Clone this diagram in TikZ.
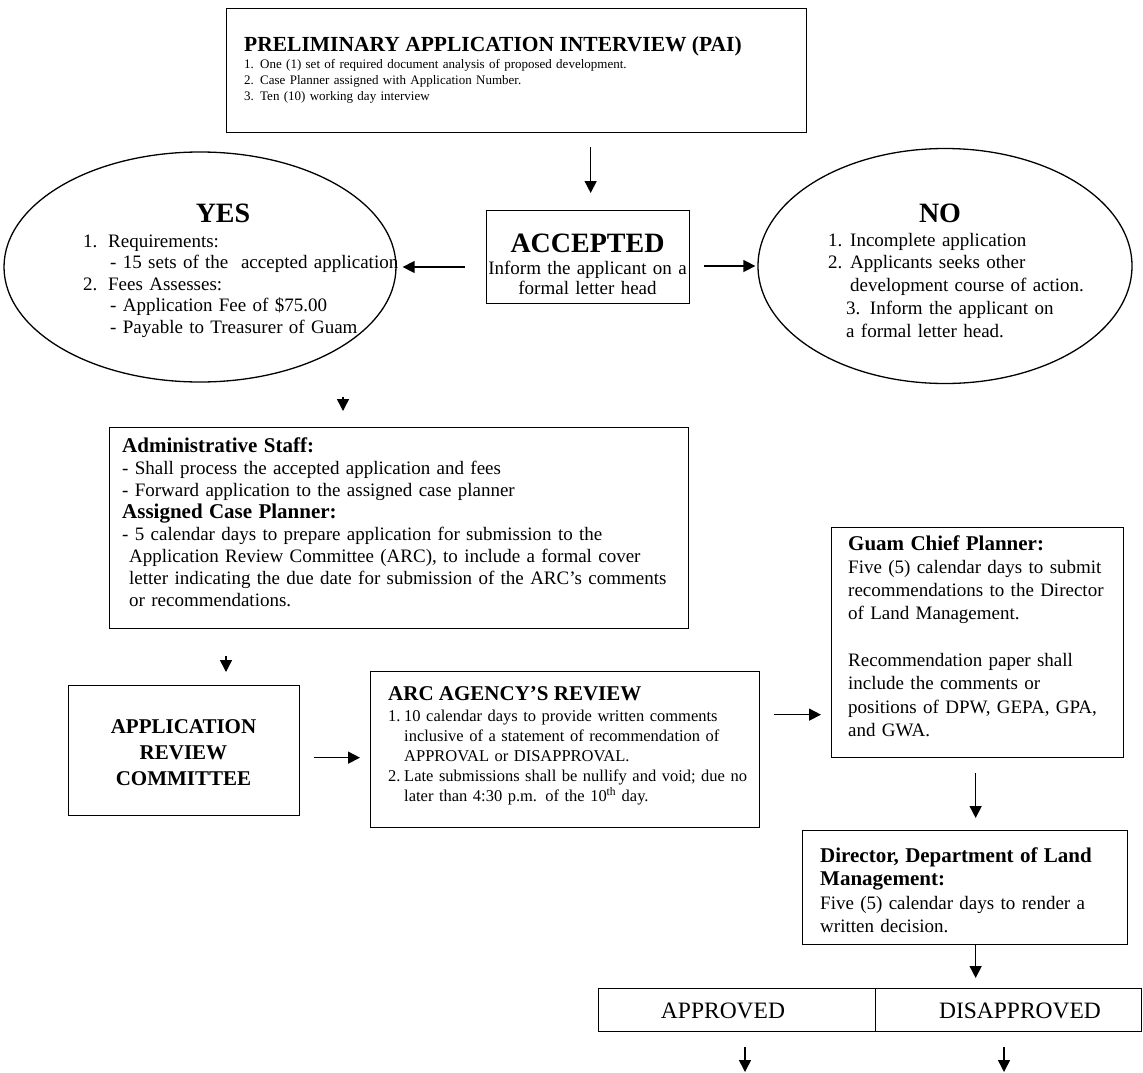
\documentclass[tikz,border=0pt]{standalone}
\usepackage{fontspec}
\setmainfont{Liberation Serif}
\usetikzlibrary{arrows.meta,shapes.geometric,calc}
\newcommand\fs[2]{\fontsize{#1}{#2}\selectfont}
\tikzset{
  box/.style={draw, line width=1.3pt, rectangle, inner sep=0pt, anchor=north west},
  oval/.style={draw, line width=1.3pt, ellipse, inner sep=0pt},
  arr/.style={line width=1.5pt, -{Triangle[length=12pt,width=12pt]}},
  txt/.style={anchor=base west, inner sep=0pt, align=left},
  ctxt/.style={anchor=base, inner sep=0pt, align=center},
}
\begin{document}
\begin{tikzpicture}[x=1pt,y=-1pt]
\useasboundingbox (0,0) rectangle (1143,1073);

% PAI
\node[box, minimum width=580pt, minimum height=124pt] (pai) at (226,8) {};
\node[txt, font=\fs{21.5}{24}\bfseries] (paiT) at (244,52) {PRELIMINARY APPLICATION INTERVIEW (PAI)};
\node[txt, text width=540pt, font=\fs{13}{16}] (paiL) at (244,69)
 {\makebox[16pt][l]{1.}One (1) set of required document analysis of proposed development.\\
  \makebox[16pt][l]{2.}Case Planner assigned with Application Number.\\
  \makebox[16pt][l]{3.}Ten (10) working day interview};

% YES
\node[oval, minimum width=392pt, minimum height=230pt] (yes) at (200,267) {};
\node[ctxt, font=\fs{28}{30}\bfseries] (yesT) at (223,222) {YES};
\node[txt, text width=330pt, font=\fs{19}{21.5}] (yesL) at (83,247)
 {\makebox[25pt][l]{1.}Requirements:\\
  \hspace*{27pt}- 15 sets of the\ \ accepted application\\
  \makebox[25pt][l]{2.}Fees Assesses:\\
  \hspace*{27pt}- Application Fee of \$75.00\\
  \hspace*{27pt}- Payable to Treasurer of Guam};

% ACCEPTED
\node[box, minimum width=203pt, minimum height=93pt] (acc) at (486,210) {};
\node[ctxt, font=\fs{28}{30}\bfseries] (accT) at (587.5,252) {ACCEPTED};
\node[anchor=base, inner sep=0pt, text width=203pt, align=center, font=\fs{19}{20}] (accL) at (587.5,274)
 {Inform the applicant on a\\ formal letter head};

% NO
\node[oval, minimum width=374pt, minimum height=235pt] (no) at (945,266) {};
\node[ctxt, font=\fs{28}{30}\bfseries] (noT) at (940,222) {NO};
\node[txt, text width=300pt, font=\fs{19}{22.8}] (noL) at (828,246)
 {\makebox[22pt][l]{1.}Incomplete application\\
  \makebox[22pt][l]{2.}Applicants seeks other\\
  \hspace*{22pt}development course of action.\\
  \hspace*{18pt}3. Inform the applicant on\\
  \hspace*{18pt}a formal letter head.};

% Administrative staff
\node[box, minimum width=579pt, minimum height=201pt] (adm) at (109,427) {};
\node[txt, text width=570pt, font=\fs{19}{22}] (admL) at (122,452)
 {{\fs{21}{22}\bfseries Administrative Staff:}\\
  - Shall process the accepted application and fees\\
  - Forward application to the assigned case planner\\
  {\fs{21}{22}\bfseries Assigned Case Planner:}\\
  - 5 calendar days to prepare application for submission to the\\
  \hspace*{7pt}Application Review Committee (ARC), to include a formal cover\\
  \hspace*{7pt}letter indicating the due date for submission of the ARC’s comments\\
  \hspace*{7pt}or recommendations.};

% Application review committee
\node[box, minimum width=231pt, minimum height=130pt] (arc) at (68,685) {};
\node[anchor=base, inner sep=0pt, text width=220pt, align=center, font=\fs{21}{26}\bfseries] (arcT) at (183.5,733)
 {APPLICATION\\ REVIEW\\ COMMITTEE};

% ARC agency's review
\node[box, minimum width=389pt, minimum height=156pt] (rev) at (370,671) {};
\node[txt, font=\fs{21}{24}\bfseries] (revT) at (388,700) {ARC AGENCY’S REVIEW};
\node[txt, text width=380pt, font=\fs{16.5}{20.2}] (revL) at (388,721)
 {\makebox[16pt][l]{1.}10 calendar days to provide written comments\\
  \hspace*{16pt}inclusive of a statement of recommendation of\\
  \hspace*{16pt}APPROVAL or DISAPPROVAL.\\
  \makebox[16pt][l]{2.}Late submissions shall be nullify and void; due no\\
  \hspace*{16pt}later than 4:30 p.m. of the 10\textsuperscript{th} day.};

% Guam chief planner
\node[box, minimum width=292pt, minimum height=230pt] (guam) at (831,527) {};
\node[txt, text width=280pt, font=\fs{19}{23.3}] (guamL) at (848,550)
 {{\fs{21}{23.3}\bfseries Guam Chief Planner:}\\
  Five (5) calendar days to submit\\
  recommendations to the Director\\
  of Land Management.\\[23.3pt]
  Recommendation paper shall\\
  include the comments or\\
  positions of DPW, GEPA, GPA,\\
  and GWA.};

% Director
\node[box, minimum width=325pt, minimum height=114pt] (dir) at (802,830) {};
\node[txt, text width=310pt, font=\fs{19}{23.5}] (dirL) at (820,862)
 {{\fs{21}{23.5}\bfseries Director, Department of Land\\ Management:}\\
  Five (5) calendar days to render a\\
  written decision.};

% Approved / Disapproved
\node[box, minimum width=277pt, minimum height=43pt] (appr) at (598,988) {};
\node[box, minimum width=266pt, minimum height=43pt] (dis) at (875,988) {};
\node[ctxt, font=\fs{23.5}{25}] (apprT) at (723,1018) {APPROVED};
\node[ctxt, font=\fs{23.5}{25}] (disT) at (1020,1018) {DISAPPROVED};

\coordinate (apEnd) at (745,1072);
\coordinate (disEnd) at (1004,1072);

% connectors
\draw[arr, shorten <=14pt, shorten >=17pt] ([xshift=2.5pt]acc.north |- pai.south) -- ([xshift=2.5pt]acc.north);
\draw[arr, shorten <=21pt, shorten >=6pt] (acc.west |- yes.east) -- (yes.east);
\draw[arr, shorten <=14pt, shorten >=2pt] (acc.east |- no.west) -- (no.west);
\draw[arr, shorten <=14pt, shorten >=16pt] ([xshift=234pt]adm.north west |- yes.south) -- ([xshift=234pt]adm.north west);
\draw[arr, shorten <=27pt, shorten >=13pt] ([xshift=117pt]adm.south west) -- ([xshift=117pt]adm.south west |- arc.north);
\draw[arr, shorten <=14pt, shorten >=10pt] ([yshift=-7pt]arc.east) -- ([yshift=-7pt]arc.east -| rev.west);
\draw[arr, shorten <=14pt, shorten >=10pt] ([yshift=35pt]rev.east) -- ([yshift=35pt]rev.east -| guam.west);
\draw[arr, shorten <=15pt, shorten >=12pt] ([xshift=-2pt]guam.south) -- ([xshift=-2pt]guam.south |- dir.north);
\draw[arr, shorten >=10pt] ([xshift=10.5pt]dir.south) -- ([xshift=10.5pt]dir.south |- dis.north);
\draw[arr, shorten <=15pt] (apEnd |- appr.south) -- (apEnd);
\draw[arr, shorten <=15pt] (disEnd |- dis.south) -- (disEnd);
\end{tikzpicture}
\end{document}
